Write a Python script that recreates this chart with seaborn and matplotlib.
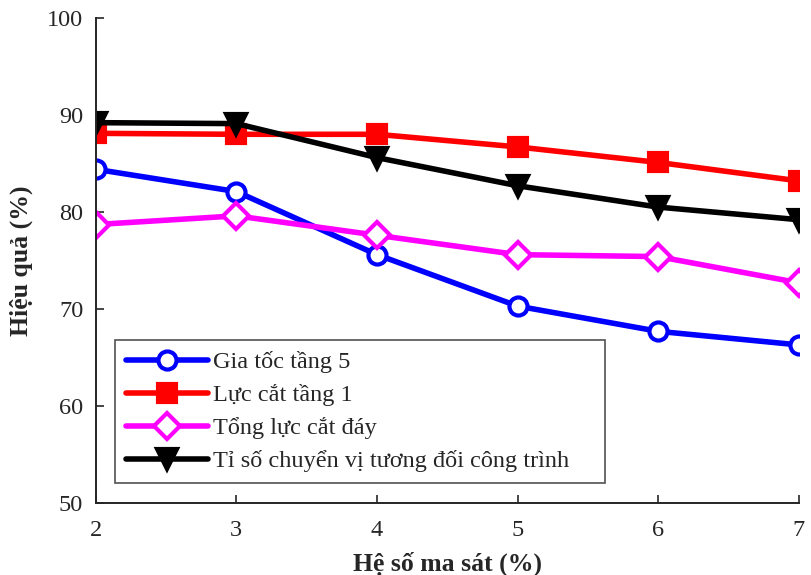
import matplotlib
matplotlib.use("Agg")
import matplotlib.pyplot as plt
import seaborn as sns
import pandas as pd

# Friction coefficient (%) and efficiency (%) per response quantity
he_so_ma_sat = [2, 3, 4, 5, 6, 7]
gia_toc_tang5 = [84.4, 82.1, 75.6, 70.3, 67.7, 66.3]
luc_cat_tang1 = [88.1, 88.0, 88.0, 86.7, 85.1, 83.2]
tong_luc_cat_day = [78.7, 79.6, 77.6, 75.6, 75.4, 72.7]
ti_so_chuyen_vi = [89.2, 89.1, 85.6, 82.7, 80.5, 79.2]

series_names = [
    "Gia tốc tầng 5",
    "Lực cắt tầng 1",
    "Tổng lực cắt đáy",
    "Tỉ số chuyển vị tương đối công trình",
]
series_values = [gia_toc_tang5, luc_cat_tang1, tong_luc_cat_day, ti_so_chuyen_vi]

x_ticks = [2, 3, 4, 5, 6, 7]
y_ticks = [50, 60, 70, 80, 90, 100]

sns.set_style("white")
plt.rcParams["font.family"] = ["Liberation Serif", "DejaVu Serif"]

styles = [
    dict(color="#0000ff", marker="o", mfc="white", mec="#0000ff"),
    dict(color="#ff0000", marker="s", mfc="#ff0000", mec="#ff0000"),
    dict(color="#ff00ff", marker="D", mfc="white", mec="#ff00ff"),
    dict(color="#000000", marker="v", mfc="#000000", mec="#000000"),
]
marker_sizes = [13, 13, 13, 15]

fig = plt.figure(figsize=(8.11, 5.75), dpi=100)
ax = fig.add_axes([0.118, 0.125, 0.867, 0.844])

for name, vals, st, ms in zip(series_names, series_values, styles, marker_sizes):
    df = pd.DataFrame({"x": he_so_ma_sat, "y": vals})
    sns.lineplot(
        data=df, x="x", y="y", ax=ax, label=name,
        color=st["color"], marker=st["marker"], markersize=ms,
        markerfacecolor=st["mfc"], markeredgecolor=st["mec"],
        markeredgewidth=3.0, linewidth=4.0,
    )

ax.set_xlim(2, 7)
ax.set_ylim(50, 100)
ax.set_xticks(x_ticks)
ax.set_yticks(y_ticks)
ax.tick_params(direction="in", length=6, width=1.2, labelsize=17.5,
               colors="#262626", bottom=True, left=True)
ax.tick_params(axis="x", pad=12)
ax.tick_params(axis="y", pad=9)
for side in ["top", "right"]:
    ax.spines[side].set_visible(False)
for side in ["left", "bottom"]:
    ax.spines[side].set_color("#262626")
    ax.spines[side].set_linewidth(1.4)

ax.set_xlabel("Hệ số ma sát (%)", fontsize=18.5, fontweight="bold", labelpad=8)
ax.set_ylabel("Hiệu quả (%)", fontsize=18.5, fontweight="bold", labelpad=10)

leg = ax.legend(
    loc="lower left", bbox_to_anchor=(0.027, 0.041, 0.698, 0.3),
    mode="expand", borderaxespad=0,
    fontsize=17.5, frameon=True, fancybox=False, handlelength=3.4,
    handletextpad=0.2, labelspacing=0.45, borderpad=0.45,
)
leg.get_frame().set_edgecolor("#262626")
leg.get_frame().set_linewidth(1.2)

fig.savefig("out.png", dpi=100)
